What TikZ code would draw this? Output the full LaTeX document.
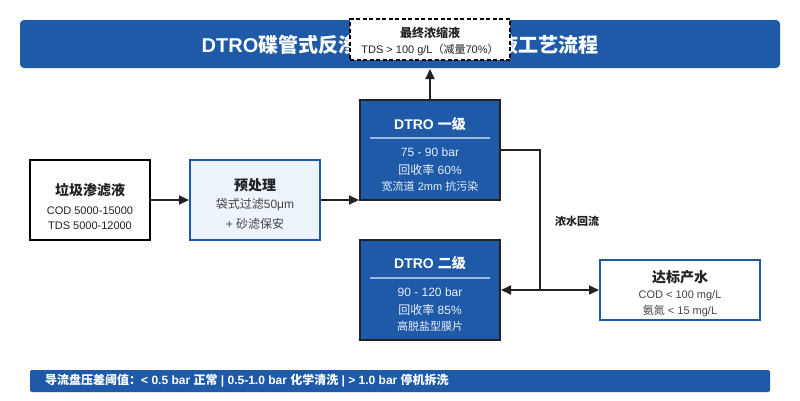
\documentclass[tikz,border=0pt]{standalone}
\usepackage{fontspec}
\setmainfont{Liberation Sans}
\newfontfamily\cjkfont{Noto Sans CJK SC}
\newcommand\zh[1]{{\cjkfont #1}}
\usetikzlibrary{arrows.meta}
\definecolor{mainblue}{HTML}{1E5AA8}
\definecolor{lightfill}{HTML}{EEF4FC}
\definecolor{sepline}{HTML}{9DB8E0}
\definecolor{darktext}{HTML}{222222}
\definecolor{graytext}{HTML}{444444}
\definecolor{subwhite}{HTML}{E8EFF8}
\tikzset{
  fs/.style={font=\fontsize{#1}{#1}\selectfont},
  fsb/.style={font=\fontsize{#1}{#1}\selectfont\bfseries},
  txt/.style={inner sep=0pt, anchor=center},
  whitebox/.style={draw=black, line width=2pt, fill=white},
  prebox/.style={draw=mainblue, line width=2pt, fill=lightfill},
  dtrobox/.style={draw=darktext, line width=2pt, fill=mainblue},
  outbox/.style={draw=mainblue, line width=2pt, fill=white},
  conn/.style={draw=darktext, line width=1.8pt},
  arr/.style={conn, -{Triangle[length=10pt,width=9pt]}},
}
\begin{document}
\begin{tikzpicture}[x=1pt,y=-1pt]
\useasboundingbox (0,0) rectangle (800,400);
% title bar
\node[fill=mainblue, rounded corners=4pt, minimum width=760pt, minimum height=48pt, inner sep=0pt] (title) at (400,44) {};
\node[txt, fsb=20, text=white] (titletext) at (400,44.5) {DTRO\zh{碟管式反渗透处理垃圾渗滤液工艺流程}};
% concentrate box
\node[draw=black, line width=1.6pt, dash pattern=on 4pt off 2.5pt, fill=white, minimum width=160pt, minimum height=41pt, inner sep=0pt] (conc) at (430,39.5) {};
\node[txt, fsb=12, text=darktext] (conct) at (430,33) {\zh{最终浓缩液}};
\node[txt, fs=11, text=darktext] (concs) at (430,50) {TDS > 100 g/L\zh{（减量}70\%\zh{）}};
% raw leachate
\node[whitebox, minimum width=120pt, minimum height=80pt, inner sep=0pt] (raw) at (90,200) {};
\node[txt, fsb=14, text=darktext] (rawt) at (90,190) {\zh{垃圾渗滤液}};
\node[txt, fs=11, text=darktext] (raw1) at (90,211) {COD 5000-15000};
\node[txt, fs=11, text=darktext] (raw2) at (90,226) {TDS 5000-12000};
% pretreatment
\node[prebox, minimum width=130pt, minimum height=80pt, inner sep=0pt] (pre) at (255,200) {};
\node[txt, fsb=14, text=darktext] (pret) at (255,185) {\zh{预处理}};
\node[txt, fs=12, text=graytext] (pre1) at (255,205) {\zh{袋式过滤}50μm};
\node[txt, fs=12, text=graytext] (pre2) at (255,224) {+ \zh{砂滤保安}};
% DTRO stage 1
\node[dtrobox, minimum width=140pt, minimum height=100pt, inner sep=0pt] (d1) at (430,150) {};
\node[txt, fsb=14, text=white] (d1t) at (430,124) {DTRO \zh{一级}};
\draw[sepline, line width=1.5pt] (370,138) -- (490,138);
\node[txt, fs=12, text=subwhite] (d11) at (430,152) {75 - 90 bar};
\node[txt, fs=12, text=subwhite] (d12) at (430,170) {\zh{回收率} 60\%};
\node[txt, fs=11, text=subwhite] (d13) at (430,186) {\zh{宽流道} 2mm \zh{抗污染}};
% DTRO stage 2
\node[dtrobox, minimum width=140pt, minimum height=100pt, inner sep=0pt] (d2) at (430,290) {};
\node[txt, fsb=14, text=white] (d2t) at (430,263) {DTRO \zh{二级}};
\draw[sepline, line width=1.5pt] (370,278) -- (490,278);
\node[txt, fs=12, text=subwhite] (d21) at (430,292) {90 - 120 bar};
\node[txt, fs=12, text=subwhite] (d22) at (430,310) {\zh{回收率} 85\%};
\node[txt, fs=11, text=subwhite] (d23) at (430,326) {\zh{高脱盐型膜片}};
% product water
\node[outbox, minimum width=160pt, minimum height=60pt, inner sep=0pt] (out) at (680,290) {};
\node[txt, fsb=14, text=darktext] (outt) at (680,277) {\zh{达标产水}};
\node[txt, fs=11, text=graytext] (out1) at (680,296) {COD < 100 mg/L};
\node[txt, fs=11, text=graytext] (out2) at (680,311) {\zh{氨氮} < 15 mg/L};
% connectors
\draw[arr] (raw.east) -- (pre.west);
\draw[arr] (pre.east) -- (d1.west |- pre.east);
\coordinate (ctip) at (430,69);
\draw[arr] (d1.north) -- (ctip);
\coordinate (j) at (540,290);
\draw[conn] (d1.east) -| (j);
\draw[arr] (j) -- (d2.east);
\draw[arr] (j) -- (out.west);
\node[txt, fsb=11, text=darktext] (reflux) at (577,221) {\zh{浓水回流}};
% bottom note
\node[fill=mainblue, rounded corners=2pt, minimum width=740pt, minimum height=22pt, inner sep=0pt] (note) at (400,381) {};
\node[txt, anchor=west, fsb=12, text=white] (notet) at (45,381) {\zh{导流盘压差阈值：}< 0.5 bar \zh{正常} | 0.5-1.0 bar \zh{化学清洗} | > 1.0 bar \zh{停机拆洗}};
\end{tikzpicture}
\end{document}
